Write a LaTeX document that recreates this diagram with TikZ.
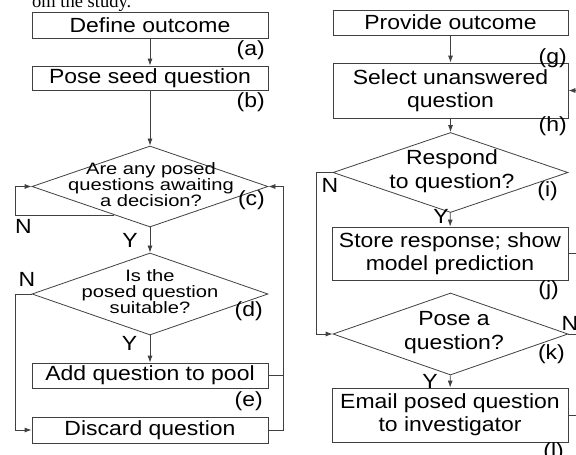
\documentclass[tikz,border=0pt]{standalone}
\usepackage{fontspec}
\setmainfont{Liberation Sans}[FakeStretch=1.12]
\newfontfamily\dfont{Liberation Sans}[FakeStretch=1.22]
\newfontfamily\capfont{Liberation Serif}
\usetikzlibrary{shapes.geometric,arrows.meta,calc}
\begin{document}
\begin{tikzpicture}[x=1pt,y=-1pt,
 line/.style={draw=black!75, line width=0.8pt},
 box/.style={line, rectangle, inner sep=0pt, minimum width=236pt, font=\fontsize{20.5}{23}\selectfont, align=center},
 dia/.style={line, diamond, inner sep=0pt, minimum width=236pt, minimum height=81pt},
 dtxt/.style={font=\dfont\fontsize{16.5}{16}\selectfont, align=center, inner sep=0pt},
 rtxt/.style={font=\fontsize{20.5}{24}\selectfont, align=center, inner sep=0pt},
 lab/.style={font=\fontsize{20.5}{23}\selectfont, inner sep=0pt},
 arr/.style={line, -{Latex[length=7pt,width=5pt]}}
]
\useasboundingbox (0,0) rectangle (576,455);
\clip (0,0) rectangle (576,455);

\node[font=\capfont\fontsize{18.5}{18}\selectfont, anchor=base west, inner sep=0pt] (cap) at (32,7.5) {om the study.};

% left column
\node[box, minimum height=26pt] (a) at (150,25) {Define outcome};
\node[box, minimum height=24pt] (b) at (150,78) {Pose seed question};
\node[dia] (c) at (150,186.5) {};
\node[dtxt] (ct) at (151,185) {Are any posed\\questions awaiting\\a decision?};
\node[dia, minimum height=82pt] (d) at (150,294) {};
\node[dtxt] (dt) at (150,292) {Is the\\posed question\\suitable?};
\node[box, minimum height=25pt] (e) at (150,375.5) {Add question to pool};
\node[box, minimum height=26pt] (f) at (150,430) {Discard question};

\node[lab, anchor=east] (la) at (265,50) {(a)};
\node[lab, anchor=east] (lb) at (265,102) {(b)};
\node[lab, anchor=east] (lc) at (265,200) {(c)};
\node[lab, anchor=east] (ld) at (263,311) {(d)};
\node[lab, anchor=east] (le) at (263,401) {(e)};

\node[lab] (nc) at (23.5,226.5) {N};
\node[lab] (yc) at (130,240) {Y};
\node[lab] (nd) at (27,279) {N};
\node[lab] (yd) at (129.5,343.5) {Y};

\draw[arr] (a) -- (b);
\draw[arr] (b) -- (c);
\draw[arr] (c) -- (d);
\draw[arr] (d) -- (e);
\coordinate (cn) at ($(c.west)!0.7!(c.south)$);
\coordinate (cL) at (15,0);
\coordinate (cR) at (283,0);
\draw[arr] (cn) -- (cn -| cL) -- (c.west -| cL) -- (c.west);
\draw[arr] (d.west) -- (d.west -| cL) -- (f.west -| cL) -- (f.west);
\draw[line] (e.east) -- (e.east -| cR);
\draw[arr] (f.east) -- (f.east -| cR) -- (c.east -| cR) -- (c.east);

% right column
\node[box, minimum width=235pt, minimum height=25pt] (g) at (450.5,22.5) {Provide outcome};
\node[box, minimum width=235pt, minimum height=55pt] (h) at (450.5,90.5) {Select unanswered\\question};
\node[dia, minimum width=235pt, minimum height=80pt] (i) at (450.5,172.5) {};
\node[rtxt] (it) at (452,171) {Respond\\to question?};
\node[box, minimum width=236pt, minimum height=53pt] (j) at (450,253.5) {Store response; show\\model prediction};
\node[dia, minimum width=235pt, minimum height=82pt] (k) at (450.5,334) {};
\node[rtxt] (kt) at (454,333) {Pose a\\question?};
\node[box, minimum width=236pt, minimum height=54pt] (l) at (450,415) {Email posed question\\to investigator};

\node[lab, anchor=east] (lg) at (567,58) {(g)};
\node[lab, anchor=east] (lh) at (567,126.5) {(h)};
\node[lab, anchor=east] (li) at (558,191) {(i)};
\node[lab, anchor=east] (lj) at (559,290) {(j)};
\node[lab, anchor=east] (lk) at (565,354) {(k)};
\node[lab, anchor=east] (ll) at (564,452) {(l)};

\node[lab] (ni) at (330,185) {N};
\node[lab] (yi) at (441,216) {Y};
\node[lab] (nk) at (570,323) {N};
\node[lab] (yk) at (430,381) {Y};

\coordinate (iL) at (316,0);
\coordinate (R) at (590,0);
\draw[arr] (g) -- (h);
\draw[arr] (h) -- (i);
\draw[arr] (i) -- (j);
\draw[arr] (k) -- (l);
\draw[arr] (i.west) -- (i.west -| iL) -- (k.west -| iL) -- (k.west);
\draw[line] (j.east) -- (j.east -| R);
\draw[line] (k.east) -- (k.east -| R);
\draw[line] (l.east) -- (l.east -| R);
\draw[arr] (h.east -| R) -- (h.east);
\end{tikzpicture}
\end{document}
